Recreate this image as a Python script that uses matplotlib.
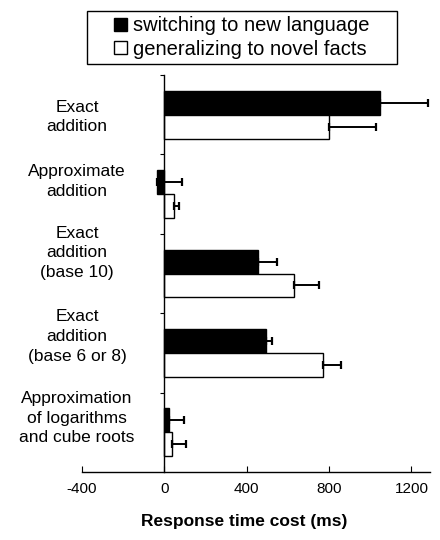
import matplotlib
matplotlib.use('Agg')
import matplotlib.pyplot as plt
import matplotlib.transforms as mtransforms
from matplotlib.patches import Patch, Rectangle
import numpy as np

plt.rcParams['font.family'] = ['Liberation Sans', 'DejaVu Sans']

# Data (ms)
categories = ['Exact\naddition',
              'Approximate\naddition',
              'Exact\naddition\n(base 10)',
              'Exact\naddition\n(base 6 or 8)',
              'Approximation\nof logarithms\nand cube roots']
switching = [1049, -35, 454, 493, 24]
switching_err = [229, 123, 92, 29, 69]
generalizing = [800, 49, 629, 771, 39]
generalizing_err = [229, 24, 122, 88, 68]
series_names = ['switching to new language', 'generalizing to novel facts']
xticks = [-400, 0, 400, 800, 1200]

# label nudges (group units), labels sit a bit above bar pairs
label_shift = [0.03, -0.16, -0.26, -0.21, -0.18]

fig = plt.figure(figsize=(4.4, 5.4), dpi=100)
ax = fig.add_axes([82 / 440, 1 - 472 / 540, 348 / 440, 397 / 540])

y = np.arange(len(categories))
h = 0.3
ax.barh(y - h / 2, switching, height=h, color='black', edgecolor='black', lw=1)
ax.barh(y + h / 2, generalizing, height=h, color='white', edgecolor='black', lw=1)
ekw = dict(fmt='none', ecolor='black', elinewidth=1.4, capsize=2.8, capthick=1.6)
ax.errorbar(switching, y - h / 2, xerr=[np.zeros(len(y)), switching_err], **ekw)
ax.errorbar(generalizing, y + h / 2, xerr=[np.zeros(len(y)), generalizing_err], **ekw)

ax.set_ylim(len(categories) - 0.5, -0.5)
ax.set_xlim(-400, 1290)

ax.spines['top'].set_visible(False)
ax.spines['right'].set_visible(False)
ax.spines['left'].set_position(('data', 0))
ax.spines['left'].set_linewidth(1)
ax.spines['bottom'].set_linewidth(1)

ax.set_yticks(np.arange(-0.5, len(categories) - 0.5, 1.0))
ax.set_yticklabels([])
ax.tick_params(axis='y', direction='out', length=3, width=0.8)

ax.set_xticks(xticks)
ax.set_xticklabels([str(t) for t in xticks], fontsize=11)
ax.tick_params(axis='x', direction='in', length=4, width=0.8, pad=7)

trans = mtransforms.blended_transform_factory(fig.transFigure, ax.transData)
for i, lab in enumerate(categories):
    ax.text(77 / 440, i + label_shift[i], lab, transform=trans, ha='center',
            va='center', fontsize=12.5, linespacing=1.4)

ax.set_xlabel('Response time cost (ms)', fontsize=12.5, fontweight='bold')
ax.xaxis.set_label_coords((244 - 82) / 348, -0.105)

# legend without its own frame; a wider box is drawn around it
handles = [Patch(facecolor='black', edgecolor='black'),
           Patch(facecolor='white', edgecolor='black')]
fig.legend(handles, series_names, loc='center',
           bbox_to_anchor=(242 / 440, 1 - 37.5 / 540), fontsize=14.5,
           frameon=False, handlelength=0.62, handleheight=0.62,
           handletextpad=0.3, labelspacing=0.22, borderpad=0, borderaxespad=0)
fig.patches.append(Rectangle((87 / 440, 1 - 64 / 540), 310 / 440, 53 / 540,
                             transform=fig.transFigure, fill=False,
                             edgecolor='black', lw=1))

fig.savefig('out.png', dpi=100)
